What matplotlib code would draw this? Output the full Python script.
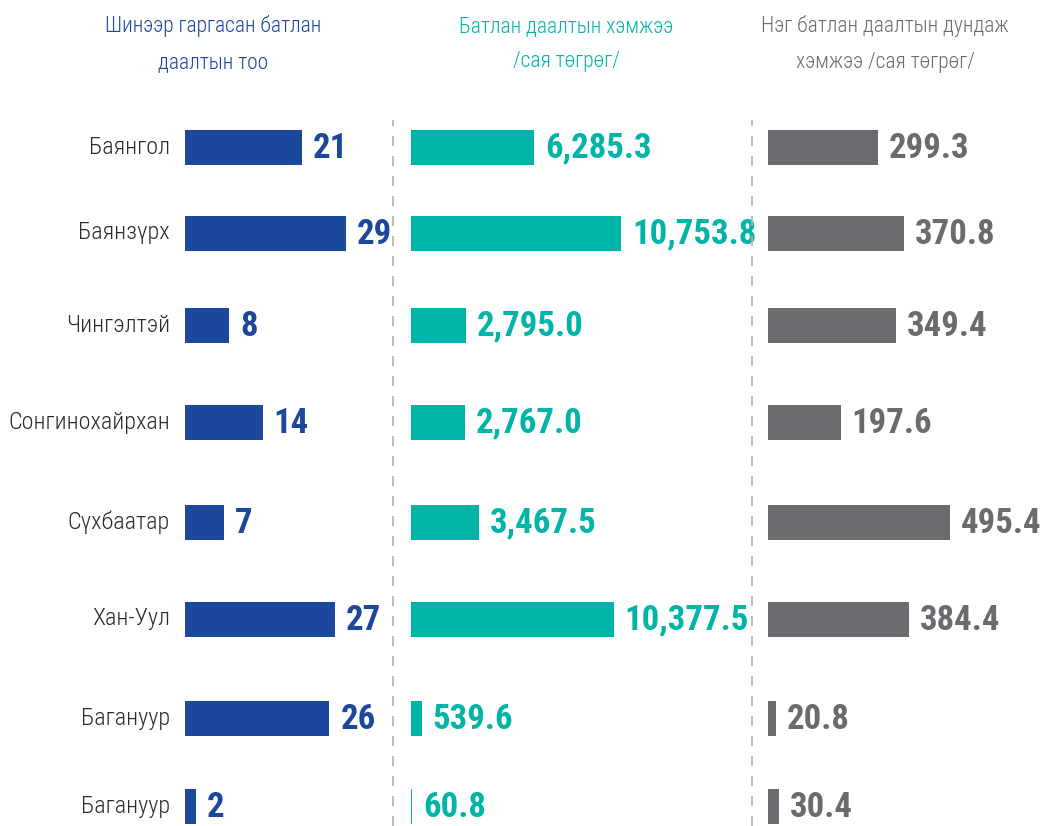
import matplotlib
matplotlib.use("Agg")
import matplotlib.pyplot as plt
from matplotlib import font_manager

# Districts and their values
districts = ["Баянгол", "Баянзүрх", "Чингэлтэй", "Сонгинохайрхан",
             "Сүхбаатар", "Хан-Уул", "Багануур", "Багануур"]
guarantee_count = [21, 29, 8, 14, 7, 27, 26, 2]
guarantee_amount = [6285.3, 10753.8, 2795.0, 2767.0, 3467.5, 10377.5, 539.6, 60.8]
avg_amount = [299.3, 370.8, 349.4, 197.6, 495.4, 384.4, 20.8, 30.4]

titles = ["Шинээр гаргасан батлан\nдаалтын тоо",
          "Батлан даалтын хэмжээ\n/сая төгрөг/",
          "Нэг батлан даалтын дундаж\nхэмжээ /сая төгрөг/"]
colors = ["#1b479c", "#00b4a8", "#6b6b6f"]

# pick a narrow font if one is installed
names = {f.name for f in font_manager.fontManager.ttflist}
narrow = next((n for n in ["Roboto Condensed", "Liberation Sans Narrow", "Arial Narrow"]
               if n in names), "DejaVu Sans")
plt.rcParams["font.family"] = [narrow, "DejaVu Sans"]

W, H = 1041, 826
fig = plt.figure(figsize=(W / 100, H / 100), dpi=100)

def px_axes(x0, y0, x1, y1):
    return fig.add_axes([x0 / W, 1 - y1 / H, (x1 - x0) / W, (y1 - y0) / H])

# panel layout in pixels: (left, right, pixels per unit)
panels = [(185, 393, 5.55), (411, 752, 0.01953), (768, 1041, 0.367)]
series = [guarantee_count, guarantee_amount, avg_amount]
fmts = ["{:.0f}", "{:,.1f}", "{:,.1f}"]

# vertical layout: axes span 110..826 px, rows drawn at these pixel offsets
top, bottom = 110, 826
row_y = [147, 233, 325, 422, 522, 619, 718, 806]
ylim = (bottom, top)
bar_h = 35

for (x0, x1, scale), vals, col, fmt in zip(panels, series, colors, fmts):
    ax = px_axes(x0, top, x1, bottom)
    ax.set_xlim(0, (x1 - x0) / scale)
    ax.set_ylim(*ylim)
    ax.axis("off")
    ax.barh(row_y, vals, height=bar_h, color=col)
    for y, v in zip(row_y, vals):
        ax.annotate(fmt.format(v), xy=(v, y), xytext=(8, -1), textcoords="offset points",
                    ha="left", va="center", fontsize=25, fontweight="bold",
                    color=col, annotation_clip=False)

# district names on the left
lab_ax = px_axes(0, top, 185, bottom)
lab_ax.set_xlim(0, 185)
lab_ax.set_ylim(*ylim)
lab_ax.axis("off")
for y, name in zip(row_y, districts):
    lab_ax.text(170, y, name, ha="right", va="center", fontsize=17.5,
                fontweight="light", color="#2b2b2b")

# column headers
for cx, t, col in zip([213, 566, 885], titles, colors):
    fig.text(cx / W, 1 - 44 / H, t, ha="center", va="center", fontsize=15.5,
             fontweight="light", color=col, linespacing=1.9)

# dashed separators
for x in [393, 752]:
    fig.add_artist(plt.Line2D([x / W, x / W], [0, 1 - 120 / H], color="#b0b0b0",
                              lw=1.2, ls=(0, (6, 6))))

fig.savefig("out.png", dpi=100, facecolor="white")
